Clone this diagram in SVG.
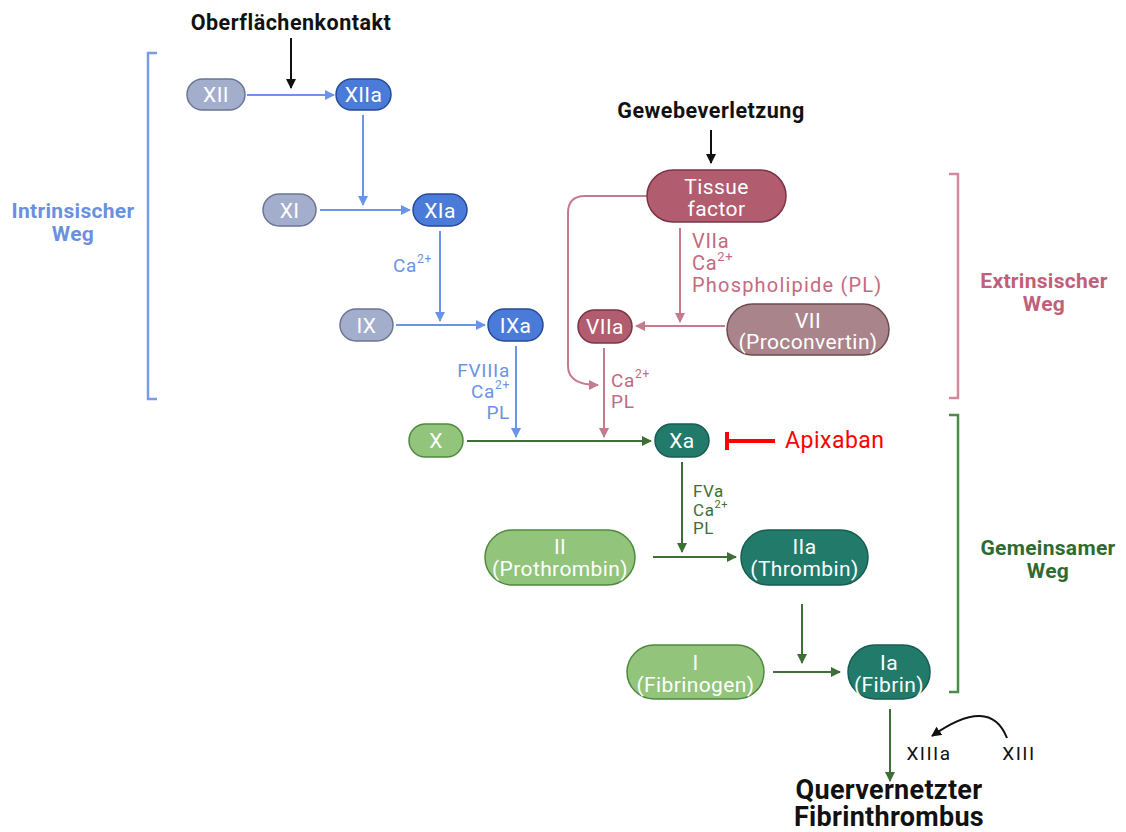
<svg xmlns="http://www.w3.org/2000/svg" width="1126" height="832" viewBox="0 0 1126 832">
<defs>
<style>
text{font-family:Roboto,"Liberation Sans",sans-serif}
.nt{fill:#fff;font-size:21px;letter-spacing:0.4px;text-anchor:middle}
.lb{font-size:19px;letter-spacing:0.7px}
.hd{font-size:21.5px;letter-spacing:0.5px;font-weight:bold;fill:#111;text-anchor:middle}
.pw{font-size:21px;letter-spacing:0.3px;font-weight:bold;text-anchor:middle}
.inI{fill:#a3adcc;stroke:#6b7594;stroke-width:1.5}
.acI{fill:#4a7bd8;stroke:#274a9a;stroke-width:1.5}
.acE{fill:#b25c70;stroke:#7a3445;stroke-width:1.5}
.inE{fill:#a9858b;stroke:#6d4a52;stroke-width:1.5}
.inC{fill:#92c47c;stroke:#4d8a3c;stroke-width:1.5}
.acC{fill:#227a6b;stroke:#175d50;stroke-width:1.5}
.cb{stroke:#6a94e4;stroke-width:2;fill:none;marker-end:url(#ab)}
.cp{stroke:#c47b8e;stroke-width:2;fill:none;marker-end:url(#ap)}
.cg{stroke:#3e6f36;stroke-width:2;fill:none;marker-end:url(#ag)}
.ck{stroke:#111;stroke-width:2;fill:none;marker-end:url(#ak)}
.tb{fill:#6a94e4}
.tp{fill:#c46a80}
.tg{fill:#3e6e36}
</style>
<marker id="ab" viewBox="0 0 10 10" refX="9" refY="5" markerWidth="5" markerHeight="5" orient="auto" markerUnits="strokeWidth"><path d="M0,0L10,5L0,10z" fill="#6a94e4"/></marker>
<marker id="ap" viewBox="0 0 10 10" refX="9" refY="5" markerWidth="5" markerHeight="5" orient="auto" markerUnits="strokeWidth"><path d="M0,0L10,5L0,10z" fill="#c47b8e"/></marker>
<marker id="ag" viewBox="0 0 10 10" refX="9" refY="5" markerWidth="5" markerHeight="5" orient="auto" markerUnits="strokeWidth"><path d="M0,0L10,5L0,10z" fill="#3e6f36"/></marker>
<marker id="ak" viewBox="0 0 10 10" refX="9" refY="5" markerWidth="5" markerHeight="5" orient="auto" markerUnits="strokeWidth"><path d="M0,0L10,5L0,10z" fill="#111"/></marker>
</defs>
<rect width="1126" height="832" fill="#fff"/>

<!-- headings -->
<text class="hd" x="291" y="30">Oberflächenkontakt</text>
<text class="hd" x="711" y="118">Gewebeverletzung</text>
<text x="889" y="799" font-size="27" letter-spacing="0.3" font-weight="bold" fill="#111" text-anchor="middle">Quervernetzter</text>
<text x="889" y="826" font-size="27" letter-spacing="0.3" font-weight="bold" fill="#111" text-anchor="middle">Fibrinthrombus</text>

<!-- brackets and pathway labels -->
<g id="bracket-intrinsic">
<path d="M157,53H148V399H157" fill="none" stroke="#7a9be6" stroke-width="2.5"/>
<text class="pw" x="73" y="218" fill="#6a90e0">Intrinsischer</text>
<text class="pw" x="73" y="241" fill="#6a90e0">Weg</text>
</g>
<g id="bracket-extrinsic">
<path d="M949,174H958V398H949" fill="none" stroke="#d48a9a" stroke-width="2.5"/>
<text class="pw" x="1044" y="288" fill="#c0607a">Extrinsischer</text>
<text class="pw" x="1044" y="311" fill="#c0607a">Weg</text>
</g>
<g id="bracket-common">
<path d="M949,415H958V692H949" fill="none" stroke="#4e8a4a" stroke-width="2.5"/>
<text class="pw" x="1048" y="555" fill="#2f6a30">Gemeinsamer</text>
<text class="pw" x="1048" y="578" fill="#2f6a30">Weg</text>
</g>

<!-- connectors -->
<g id="connectors">
<path class="ck" d="M291,38V88"/>
<path class="ck" d="M711,130V163"/>
<path class="cb" d="M247,95H334"/>
<path class="cb" d="M363,115V205"/>
<path class="cb" d="M320,210H410"/>
<path class="cb" d="M440,231V321"/>
<path class="cb" d="M396,325H485"/>
<path class="cb" d="M516,346V437"/>
<path class="cp" d="M680,228V322"/>
<path class="cp" d="M725,326H636"/>
<path class="cp" d="M647,196H585Q568,196 568,213V366Q568,385 598,385"/>
<path class="cp" d="M604,348V437"/>
<path class="cg" d="M467,441H651"/>
<path class="cg" d="M682,462V552"/>
<path class="cg" d="M653,557H736"/>
<path class="cg" d="M802,604V663"/>
<path class="cg" d="M773,672H840"/>
<path class="cg" d="M890,709V781"/>
<path class="ck" d="M1007,738Q990,695 932,736" stroke-width="1.8"/>
<g id="apixaban-inhibition">
<path d="M727,441H775" stroke="#f00" stroke-width="4"/>
<path d="M727,432V450" stroke="#f00" stroke-width="4"/>
</g>
</g>

<!-- connector labels -->
<g id="labels">
<text class="lb tb" x="393" y="272">Ca<tspan font-size="12" dy="-9">2+</tspan></text>
<text class="lb tb" x="510" y="377" text-anchor="end">FVIIIa</text>
<text class="lb tb" x="510" y="398" text-anchor="end">Ca<tspan font-size="12" dy="-9">2+</tspan></text>
<text class="lb tb" x="510" y="419" text-anchor="end">PL</text>
<text class="lb tp" x="692" y="248" style="font-size:20px">VIIa</text>
<text class="lb tp" x="692" y="270" style="font-size:20px">Ca<tspan font-size="13" dy="-9">2+</tspan></text>
<text class="lb tp" x="692" y="292" style="font-size:20px;letter-spacing:1.2px">Phospholipide (PL)</text>
<text class="lb tp" x="611" y="387">Ca<tspan font-size="12" dy="-9">2+</tspan></text>
<text class="lb tp" x="611" y="408">PL</text>
<text class="tg" x="693" y="497" font-size="17" letter-spacing="0.6">FVa</text>
<text class="tg" x="693" y="516" font-size="17" letter-spacing="0.6">Ca<tspan font-size="11" dy="-8">2+</tspan></text>
<text class="tg" x="693" y="534" font-size="17" letter-spacing="0.6">PL</text>
<text x="785" y="448" font-size="23" letter-spacing="0.5" fill="#f00" font-family="'Open Sans','Liberation Sans',sans-serif">Apixaban</text>
<text x="929" y="760" font-size="19" letter-spacing="1.5" fill="#111" text-anchor="middle">XIIIa</text>
<text x="1019" y="760" font-size="19" letter-spacing="1.5" fill="#111" text-anchor="middle">XIII</text>
</g>

<!-- nodes -->
<g id="n-XII"><rect class="inI" x="187" y="79" width="58" height="31" rx="15.5"/><text class="nt" x="216" y="102">XII</text></g>
<g id="n-XIIa"><rect class="acI" x="336" y="79" width="55" height="31" rx="15.5"/><text class="nt" x="363.5" y="102">XIIa</text></g>
<g id="n-XI"><rect class="inI" x="263" y="194" width="53" height="32" rx="16"/><text class="nt" x="289.5" y="217.5">XI</text></g>
<g id="n-XIa"><rect class="acI" x="413" y="194" width="54" height="32" rx="16"/><text class="nt" x="440" y="217.5">XIa</text></g>
<g id="n-IX"><rect class="inI" x="340" y="309" width="53" height="32" rx="16"/><text class="nt" x="366.5" y="332.5">IX</text></g>
<g id="n-IXa"><rect class="acI" x="488" y="309" width="55" height="32" rx="16"/><text class="nt" x="515.5" y="332.5">IXa</text></g>
<g id="n-TF"><rect class="acE" x="647" y="170" width="139" height="52" rx="26"/><text class="nt" x="716.5" y="194">Tissue</text><text class="nt" x="716.5" y="216">factor</text></g>
<g id="n-VIIa"><rect class="acE" x="578" y="310" width="54" height="33" rx="16.5"/><text class="nt" x="605" y="334">VIIa</text></g>
<g id="n-VII"><rect class="inE" x="727" y="304" width="162" height="51" rx="25.5"/><text class="nt" x="808" y="328">VII</text><text class="nt" x="808" y="349">(Proconvertin)</text></g>
<g id="n-X"><rect class="inC" x="409" y="424" width="54" height="33" rx="16.5"/><text class="nt" x="436" y="448">X</text></g>
<g id="n-Xa"><rect class="acC" x="655" y="424" width="54" height="33" rx="16.5"/><text class="nt" x="682" y="448">Xa</text></g>
<g id="n-II"><rect class="inC" x="485" y="530" width="150" height="55" rx="27.5"/><text class="nt" x="560" y="554">II</text><text class="nt" x="560" y="576">(Prothrombin)</text></g>
<g id="n-IIa"><rect class="acC" x="741" y="530" width="127" height="55" rx="27.5"/><text class="nt" x="804.5" y="554">IIa</text><text class="nt" x="804.5" y="576">(Thrombin)</text></g>
<g id="n-I"><rect class="inC" x="627" y="645" width="137" height="54" rx="27"/><text class="nt" x="695.5" y="670">I</text><text class="nt" x="695.5" y="692">(Fibrinogen)</text></g>
<g id="n-Ia"><rect class="acC" x="848" y="645" width="82" height="54" rx="27"/><text class="nt" x="889" y="670">Ia</text><text class="nt" x="889" y="692">(Fibrin)</text></g>
</svg>
